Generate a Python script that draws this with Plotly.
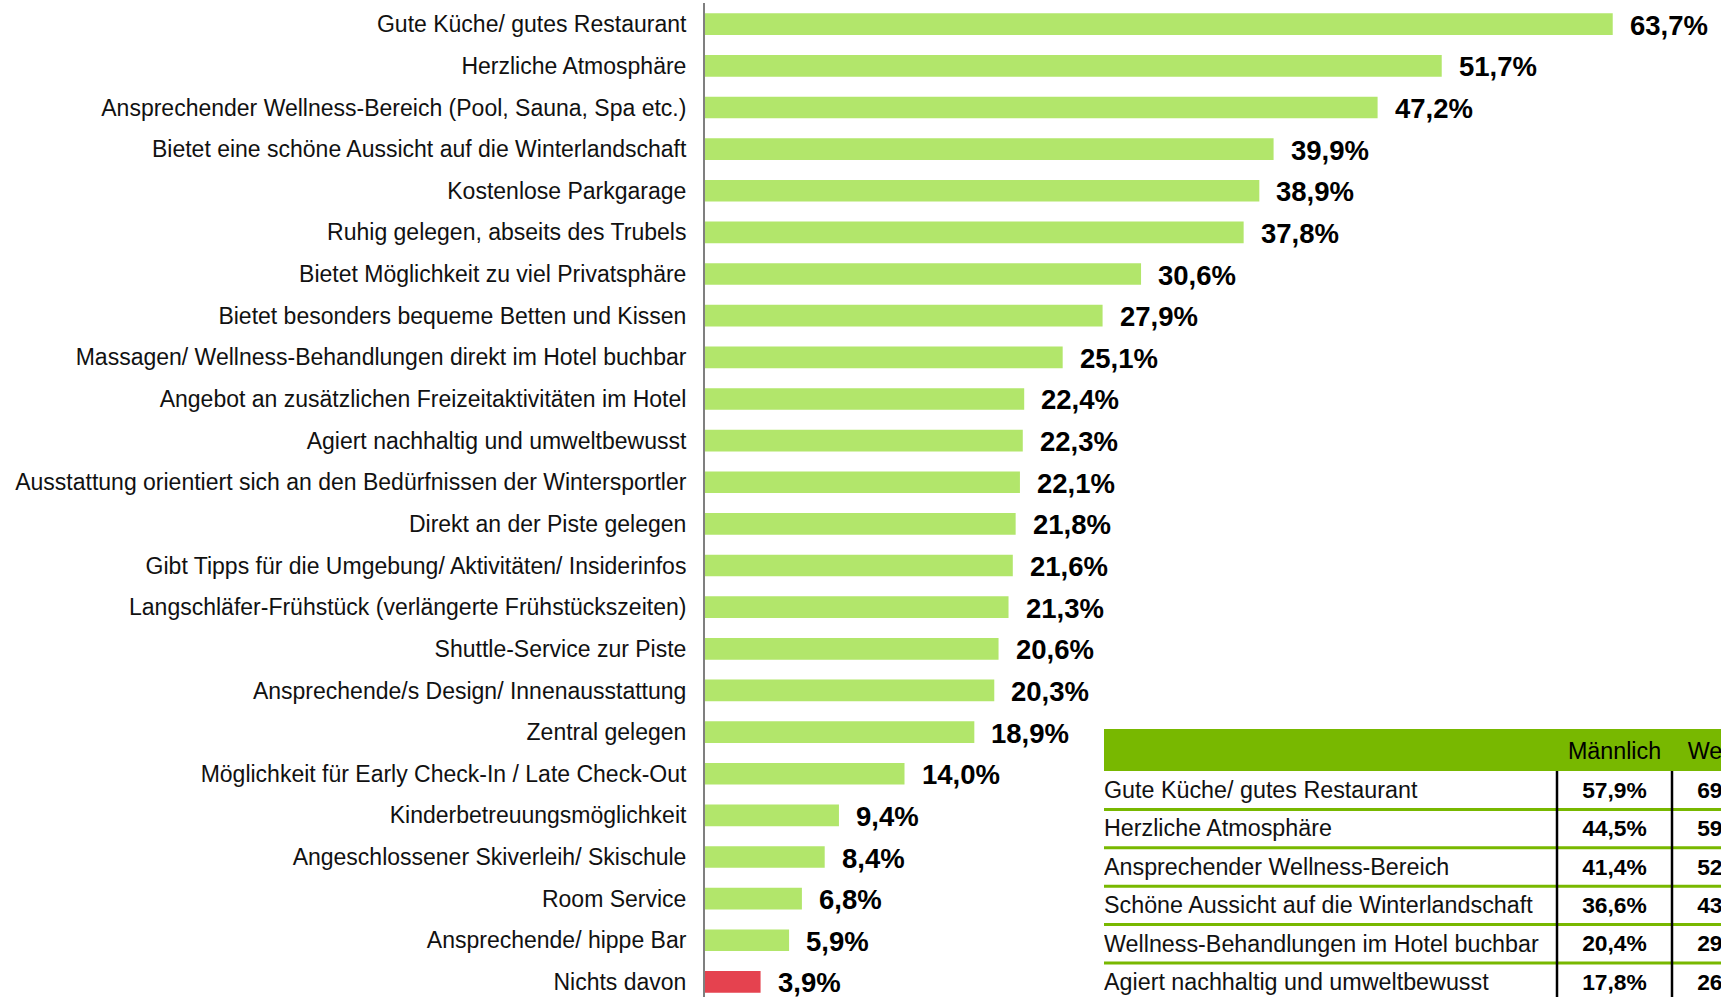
import plotly.graph_objects as go

# ---------------- data ----------------
categories = [
    "Gute Küche/ gutes Restaurant",
    "Herzliche Atmosphäre",
    "Ansprechender Wellness-Bereich (Pool, Sauna, Spa etc.)",
    "Bietet eine schöne Aussicht auf die Winterlandschaft",
    "Kostenlose Parkgarage",
    "Ruhig gelegen, abseits des Trubels",
    "Bietet Möglichkeit zu viel Privatsphäre",
    "Bietet besonders bequeme Betten und Kissen",
    "Massagen/ Wellness-Behandlungen direkt im Hotel buchbar",
    "Angebot an zusätzlichen Freizeitaktivitäten im Hotel",
    "Agiert nachhaltig und umweltbewusst",
    "Ausstattung orientiert sich an den Bedürfnissen der Wintersportler",
    "Direkt an der Piste gelegen",
    "Gibt Tipps für die Umgebung/ Aktivitäten/ Insiderinfos",
    "Langschläfer-Frühstück (verlängerte Frühstückszeiten)",
    "Shuttle-Service zur Piste",
    "Ansprechende/s Design/ Innenausstattung",
    "Zentral gelegen",
    "Möglichkeit für Early Check-In / Late Check-Out",
    "Kinderbetreuungsmöglichkeit",
    "Angeschlossener Skiverleih/ Skischule",
    "Room Service",
    "Ansprechende/ hippe Bar",
    "Nichts davon",
]
values = [63.7, 51.7, 47.2, 39.9, 38.9, 37.8, 30.6, 27.9, 25.1, 22.4, 22.3, 22.1,
          21.8, 21.6, 21.3, 20.6, 20.3, 18.9, 14.0, 9.4, 8.4, 6.8, 5.9, 3.9]

table_items = [
    "Gute Küche/ gutes Restaurant",
    "Herzliche Atmosphäre",
    "Ansprechender Wellness-Bereich",
    "Schöne Aussicht auf die Winterlandschaft",
    "Wellness-Behandlungen im Hotel buchbar",
    "Agiert nachhaltig und umweltbewusst",
]
table_headers = ["Männlich", "Weiblich"]
male = [57.9, 44.5, 41.4, 36.6, 20.4, 17.8]
female = [69.5, 59.0, 52.9, 43.2, 29.8, 26.8]

# ---------------- styles ----------------
W, H = 1721, 997
GREEN_BAR = "#b2e66b"
RED_BAR = "#e5424f"
TABLE_GREEN = "#78b800"
FONT = "Arial, 'Liberation Sans', sans-serif"
TXT = "#111111"

def pct(v):
    return f"{v:.1f}".replace(".", ",") + "%"

bar_colors = [GREEN_BAR] * (len(values) - 1) + [RED_BAR]

fig = go.Figure()

fig.add_trace(go.Bar(
    x=values, y=categories, orientation="h",
    marker=dict(color=bar_colors, line=dict(width=0)),
    xaxis="x", yaxis="y", hoverinfo="skip", showlegend=False,
))

annotations = []
for c, v in zip(categories, values):
    annotations.append(dict(
        x=v, y=c, xref="x", yref="y", text=pct(v), showarrow=False,
        xanchor="left", yanchor="middle", xshift=15, yshift=-1,
        font=dict(family=FONT, size=27.5, color="#000000", weight="bold"),
    ))

# ---------------- table (second subplot) ----------------
COL_EDGES = [0, 453, 568, 683]
HEADER_H = 42
ROW_H = 38.4
n_rows = len(table_items)
table_bottom = HEADER_H + ROW_H * n_rows

shapes = [dict(type="rect", xref="x2", yref="y2", x0=COL_EDGES[0], x1=COL_EDGES[-1],
               y0=0, y1=HEADER_H, fillcolor=TABLE_GREEN, line=dict(width=0), layer="below")]
for r in range(n_rows):
    yb = HEADER_H + ROW_H * (r + 1)
    shapes.append(dict(type="line", xref="x2", yref="y2", x0=COL_EDGES[0], x1=COL_EDGES[-1],
                       y0=yb, y1=yb, line=dict(color=TABLE_GREEN, width=3), layer="below"))
for xe in COL_EDGES[1:3]:
    shapes.append(dict(type="line", xref="x2", yref="y2", x0=xe, x1=xe,
                       y0=HEADER_H, y1=table_bottom, line=dict(color="#000000", width=2.5),
                       layer="above"))

row_centers = [HEADER_H + ROW_H * (r + 0.5) + 2 for r in range(n_rows)]
col_centers = [(COL_EDGES[i] + COL_EDGES[i + 1]) / 2 for i in range(1, 3)]

fig.add_trace(go.Scatter(
    x=[col_centers[0], col_centers[1] + 2], y=[HEADER_H / 2 + 3] * 2, text=table_headers,
    mode="text", textposition="middle center", cliponaxis=True,
    textfont=dict(family=FONT, size=23.3, color="#000000"),
    xaxis="x2", yaxis="y2", hoverinfo="skip", showlegend=False,
))
fig.add_trace(go.Scatter(
    x=[COL_EDGES[0]] * n_rows, y=row_centers, text=table_items,
    mode="text", textposition="middle right", cliponaxis=True,
    textfont=dict(family=FONT, size=23.3, color=TXT),
    xaxis="x2", yaxis="y2", hoverinfo="skip", showlegend=False,
))
for ci, series in enumerate([male, female]):
    fig.add_trace(go.Scatter(
        x=[col_centers[ci]] * n_rows, y=row_centers, text=[pct(v) for v in series],
        mode="text", textposition="middle center", cliponaxis=True,
        textfont=dict(family=FONT, size=22.8, color="#000000", weight="bold"),
        xaxis="x2", yaxis="y2", hoverinfo="skip", showlegend=False,
    ))

# ---------------- layout ----------------
AXIS_X = 705
BAND = 41.64
C0 = 24.2
y_top_px = 3

fig.update_layout(
    width=W, height=H,
    margin=dict(l=0, r=0, t=0, b=0),
    paper_bgcolor="white", plot_bgcolor="white",
    bargap=0.48,
    font=dict(family=FONT, color=TXT),
    xaxis=dict(domain=[AXIS_X / W, 1], range=[0, (W - AXIS_X) / 14.25],
               visible=False, fixedrange=True),
    yaxis=dict(domain=[0, (H - y_top_px) / H],
               range=[(H - C0) / BAND, (y_top_px - C0) / BAND],
               autorange=False, type="category",
               showline=True, linecolor="#7f7f7f", linewidth=2,
               showgrid=False, zeroline=False, ticks="",
               ticklabelstandoff=12,
               tickfont=dict(family=FONT, size=23, color=TXT), fixedrange=True),
    xaxis2=dict(domain=[1104 / W, 1], range=[0, W - 1104], visible=False,
                anchor="y2", fixedrange=True),
    yaxis2=dict(domain=[0, (H - 729) / H], range=[H - 729, 0], visible=False,
                anchor="x2", fixedrange=True),
    shapes=shapes,
    annotations=annotations,
)

fig.write_html(
    "out.html",
    config={"displayModeBar": False},
    post_script="document.body.style.margin='0';document.body.style.overflow='hidden';",
)
